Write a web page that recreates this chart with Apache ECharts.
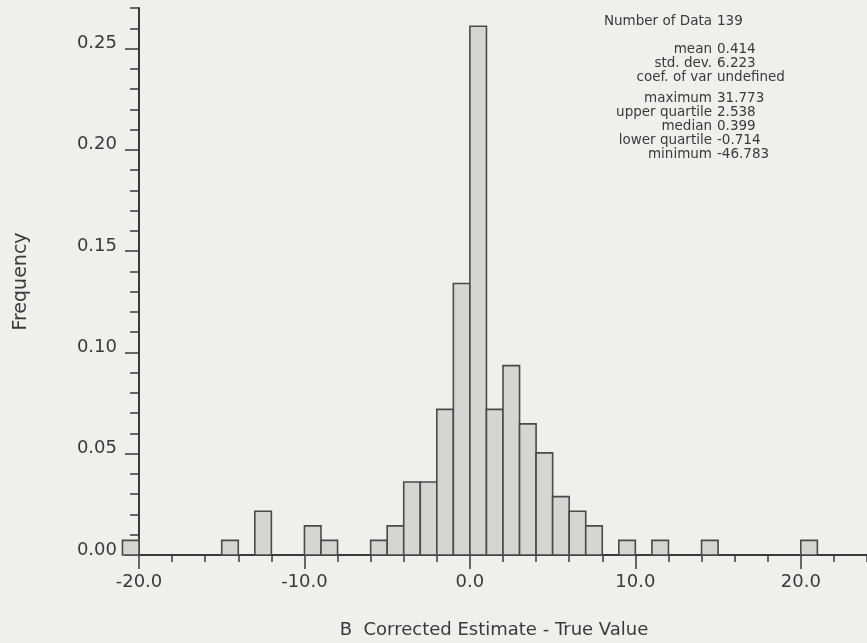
<!DOCTYPE html>
<html>
<head>
<meta charset="utf-8">
<script src="https://cdn.jsdelivr.net/npm/echarts@6/dist/echarts.min.js"></script>
<style>
html,body{margin:0;padding:0;background:#efefec;}
#chart{width:867px;height:643px;}
</style>
</head>
<body>
<div id="chart"></div>
<script>
// ---- data ----
const binStart = [-21, -15, -13, -10, -9, -6, -5, -4, -3, -2, -1, 0, 1, 2, 3, 4, 5, 6, 7, 9, 11, 14, 20];
const binWidth = 1;
const frequency = [0.0072, 0.0072, 0.0216, 0.0144, 0.0072, 0.0072, 0.0144, 0.0360, 0.0360, 0.0719,
                   0.1340, 0.2610, 0.0719, 0.0935, 0.0647, 0.0504, 0.0288, 0.0216, 0.0144,
                   0.0072, 0.0072, 0.0072, 0.0072];
const xMajorTicks = [-20, -10, 0, 10, 20];
const yMajorTicks = [0.00, 0.05, 0.10, 0.15, 0.20, 0.25];
const statLabels = ['Number of Data', 'mean', 'std. dev.', 'coef. of var', 'maximum', 'upper quartile', 'median', 'lower quartile', 'minimum'];
const statValues = ['139', '0.414', '6.223', 'undefined', '31.773', '2.538', '0.399', '-0.714', '-46.783'];
const statGroup = [0, 1, 1, 1, 2, 2, 2, 2, 2];
const xTitle = 'B  Corrected Estimate - True Value';
const yTitle = 'Frequency';

// ---- chart ----
const FONT = 'DejaVu Sans';
const INK = '#3a3a3a';
const chart = echarts.init(document.getElementById('chart'));
const histData = binStart.map((s, i) => [s, s + binWidth, frequency[i]]);

const statGraphics = [];
statLabels.forEach((lab, i) => {
  const y = 21 + 14 * i + (statGroup[i] >= 1 ? 14 : 0) + (statGroup[i] >= 2 ? 7 : 0);
  statGraphics.push({type: 'text', x: 712, y: y,
    style: {text: lab, font: '13.5px "' + FONT + '"', fill: INK, textAlign: 'right', textVerticalAlign: 'middle'}});
  statGraphics.push({type: 'text', x: 717, y: y,
    style: {text: statValues[i], font: '13.5px "' + FONT + '"', fill: INK, textAlign: 'left', textVerticalAlign: 'middle'}});
});
statGraphics.push({type: 'text', x: 494, y: 630,
  style: {text: xTitle, font: '18px "' + FONT + '"', fill: INK, textAlign: 'center', textVerticalAlign: 'middle'}});

const axisCommon = {
  type: 'value',
  splitLine: {show: false}
};

chart.setOption({
  backgroundColor: '#efefec',
  animation: false,
  textStyle: {fontFamily: FONT},
  grid: {left: 139, right: -24.4, top: 8, bottom: 88, containLabel: false},
  xAxis: [
    Object.assign({}, axisCommon, {
      min: -20, max: 24, interval: 2, position: 'bottom',
      axisLine: {show: true, onZero: false, lineStyle: {color: INK, width: 2}},
      axisTick: {show: true, length: 7, lineStyle: {color: INK, width: 1.5}},
      axisLabel: {show: false}
    }),
    Object.assign({}, axisCommon, {
      min: -20, max: 24, interval: 2, position: 'bottom',
      axisLine: {show: false, onZero: false},
      axisTick: {show: true, length: 14, customValues: xMajorTicks, lineStyle: {color: INK, width: 1.5}},
      axisLabel: {show: true, customValues: xMajorTicks, margin: 18, color: INK, fontSize: 18, fontFamily: FONT,
        formatter: v => v.toFixed(1)}
    })
  ],
  yAxis: [
    Object.assign({}, axisCommon, {
      min: 0, max: 0.27, interval: 0.01, position: 'left',
      axisLine: {show: true, onZero: false, lineStyle: {color: INK, width: 2}},
      axisTick: {show: true, length: 9, lineStyle: {color: INK, width: 1.5}},
      axisLabel: {show: false},
      name: yTitle, nameLocation: 'middle', nameGap: 108, nameRotate: 90,
      nameTextStyle: {color: INK, fontSize: 19, fontFamily: FONT}
    }),
    Object.assign({}, axisCommon, {
      min: 0, max: 0.27, interval: 0.01, position: 'left',
      axisLine: {show: false, onZero: false},
      axisTick: {show: true, length: 14, customValues: yMajorTicks, lineStyle: {color: INK, width: 1.5}},
      axisLabel: {show: true, customValues: yMajorTicks, margin: 22, color: INK, fontSize: 18, fontFamily: FONT,
        verticalAlign: 'bottom', lineHeight: 10, formatter: v => v.toFixed(2)}
    })
  ],
  series: [{
    type: 'custom',
    xAxisIndex: 0, yAxisIndex: 0,
    clip: false,
    data: histData,
    encode: {x: [0, 1], y: 2},
    renderItem: function (params, api) {
      const p0 = api.coord([api.value(0), api.value(2)]);
      const p1 = api.coord([api.value(1), 0]);
      return {
        type: 'rect',
        shape: {x: p0[0], y: p0[1], width: p1[0] - p0[0], height: p1[1] - p0[1]},
        style: {fill: '#d5d5d2', stroke: '#4a4a4a', lineWidth: 1.6}
      };
    }
  }],
  graphic: statGraphics
});
</script>
</body>
</html>
